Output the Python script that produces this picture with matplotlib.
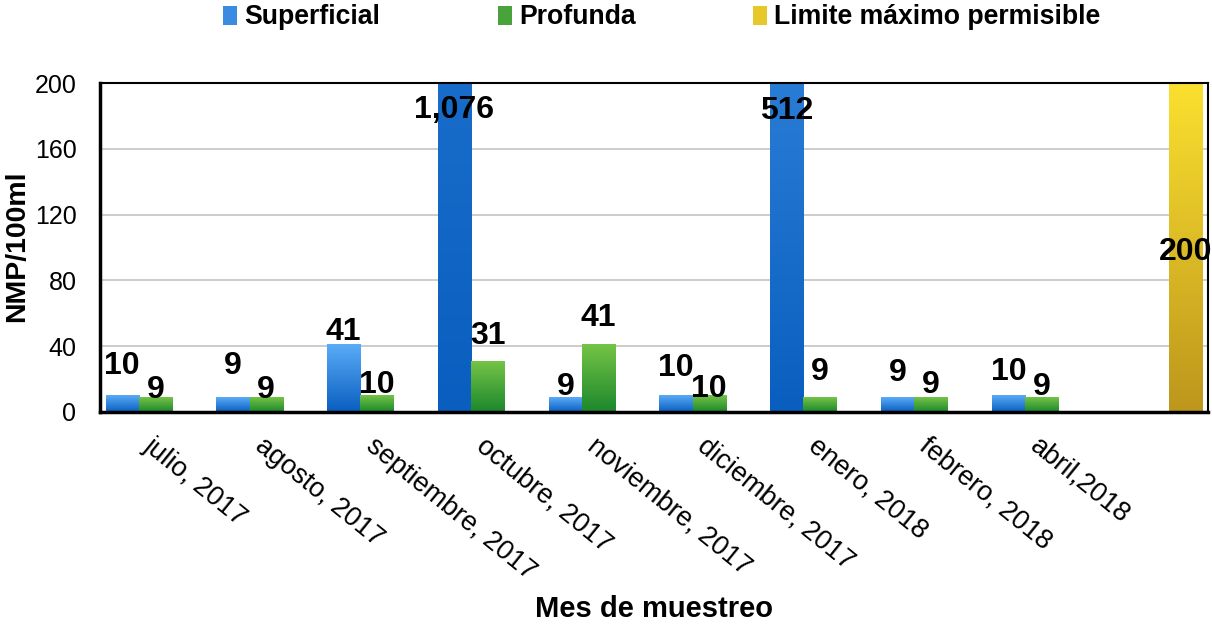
import numpy as np
import matplotlib.pyplot as plt
from matplotlib.colors import LinearSegmentedColormap
from matplotlib.patches import Patch

plt.rcParams['font.family'] = ['Liberation Sans', 'DejaVu Sans']

# data
meses = ['julio, 2017', 'agosto, 2017', 'septiembre, 2017', 'octubre, 2017',
         'noviembre, 2017', 'diciembre, 2017', 'enero, 2018', 'febrero, 2018',
         'abril,2018', '']
superficial = [10, 9, 41, 1076, 9, 10, 512, 9, 10, None]
profunda = [9, 9, 10, 31, 41, 10, 9, 9, 9, None]
limite = [None, None, None, None, None, None, None, None, None, 200]
series_names = ['Superficial', 'Profunda', 'Limite máximo permisible']

# where the data labels sit (data units, centre of the digits)
sup_label_y = [30, 30, 51, 186, 17.5, 29, 185, 26, 26.5, None]
prof_label_y = [15.5, 15.5, 18.3, 48.5, 59.5, 16, 26.3, 18.6, 17, None]
lim_label_y = [None] * 9 + [99.4]

# gradient colours (top, bottom)
grads = [('#5aacf8', '#0a5ebf'), ('#74c446', '#1c872c'), ('#fbe02f', '#bd961c')]

ymax = 200

fig = plt.figure(figsize=(12.12, 6.25), dpi=100)
ax = fig.add_axes([0.0825, 0.341, 0.914, 0.526])

x = np.arange(len(meses))
w = 0.3
offsets = [-0.3, 0.0, 0.3]

for vals, lab_y, off, (ctop, cbot) in zip([superficial, profunda, limite],
                                           [sup_label_y, prof_label_y, lim_label_y],
                                           offsets, grads):
    cmap = LinearSegmentedColormap.from_list('g', [cbot, ctop])
    for xi, v, ly in zip(x, vals, lab_y):
        if v is None:
            continue
        bar = ax.bar(xi + off, v, w, color='none', edgecolor='none', zorder=2)[0]
        top = min(v, ymax)
        # gradient runs over the full bar height, only the visible part is drawn
        grad = np.linspace(0, top / v, 256).reshape(-1, 1)
        im = ax.imshow(grad, cmap=cmap, vmin=0, vmax=1, origin='lower', aspect='auto',
                       extent=[xi + off - w / 2, xi + off + w / 2, 0, top], zorder=2)
        ax.text(xi + off, ly, f'{v:,}', ha='center', va='center_baseline', fontsize=23,
                fontweight='bold', zorder=5)

ax.set_xlim(-0.5, len(meses) - 0.5)
ax.set_ylim(0, ymax)
ax.set_yticks(np.arange(0, 201, 40))
ax.tick_params(axis='y', labelsize=18, length=0, pad=17)
ax.set_xticks(x)
ax.set_xticklabels(meses, rotation=-39, ha='left', rotation_mode='anchor', fontsize=19.5)
ax.tick_params(axis='x', length=0, pad=15)
ax.grid(axis='y', color='#c8c8c8', linewidth=1.3, zorder=0)
ax.set_axisbelow(True)

for s in ['top', 'right']:
    ax.spines[s].set_linewidth(1.5)
for s in ['left', 'bottom']:
    ax.spines[s].set_linewidth(2.5)

fig.text(17 / 1212, 1 - 246 / 625, 'NMP/100ml', rotation=90, ha='center', va='center',
         fontsize=20.5, fontweight='bold')
fig.text(654 / 1212, 1 - 609 / 625, 'Mes de muestreo', ha='center', va='center',
         fontsize=21, fontweight='bold')

handles = [Patch(facecolor='#3a8ce0'), Patch(facecolor='#48a33a'), Patch(facecolor='#e6c82a')]
fig.legend(handles, series_names, loc='center', bbox_to_anchor=(0.546, 0.972), ncol=3,
           frameon=False, prop={'weight': 'bold', 'size': 19.2}, handlelength=0.53,
           handleheight=0.7, handletextpad=0.27, columnspacing=4.4)

fig.savefig('out.png', dpi=100)
